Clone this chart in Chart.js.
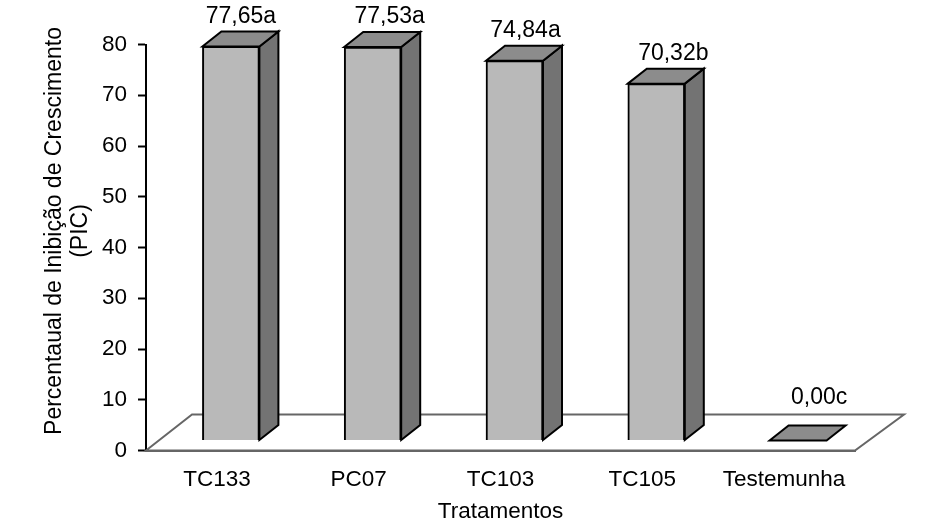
<!DOCTYPE html>
<html lang="pt">
<head>
    <meta charset="UTF-8">
    <title>Percentual de Inibição de Crescimento</title>
    <script src="https://cdn.jsdelivr.net/npm/chart.js"></script>
    <style>
        body { margin: 0; background: #fff; }
        canvas { display: block; }
    </style>
</head>
<body>
    <canvas id="picChart" width="945" height="529"></canvas>

    <script>
        const tratamentos = ['TC133', 'PC07', 'TC103', 'TC105', 'Testemunha'];
        const pic = [77.65, 77.53, 74.84, 70.32, 0];
        const letras = ['a', 'a', 'a', 'b', 'c'];
        const yTicks = [0, 10, 20, 30, 40, 50, 60, 70, 80];

        const FONT = '"Liberation Sans", Arial, sans-serif';
        const FONT_SIZE = 22.5;
        const LABEL_SIZE = 23;

        // the fake 3D: bars sit forward on the floor, depth goes up and right
        const BAR_SHIFT = { x: 14, y: -10 };
        const DEPTH = { x: 19, y: -15 };
        const FLOOR_BACK = { left: 46, right: 49, y: -36 };
        // value labels were moved by hand in the original
        const labelDx = [10, 17, 11, 17, 21];
        const labelDy = [30, 30, 30, 30, 43];

        function poly(ctx, pts, fill, stroke, lw) {
            ctx.beginPath();
            pts.forEach((p, i) => i ? ctx.lineTo(p[0], p[1]) : ctx.moveTo(p[0], p[1]));
            ctx.closePath();
            if (fill) { ctx.fillStyle = fill; ctx.fill(); }
            ctx.strokeStyle = stroke;
            ctx.lineWidth = lw;
            ctx.lineJoin = 'miter';
            ctx.stroke();
        }

        const floorPlugin = {
            id: 'floor',
            beforeDatasetsDraw(chart) {
                const { ctx, scales: { x, y } } = chart;
                const y0 = y.getPixelForValue(0);
                poly(ctx, [
                    [x.left, y0],
                    [x.left + FLOOR_BACK.left, y0 + FLOOR_BACK.y],
                    [x.right + FLOOR_BACK.right, y0 + FLOOR_BACK.y],
                    [x.right, y0]
                ], null, '#666', 2);
            }
        };

        const bars3d = {
            id: 'bars3d',
            beforeDatasetDraw(chart) {
                chart.ctx.save();
                chart.ctx.translate(BAR_SHIFT.x, BAR_SHIFT.y);
            },
            afterDatasetDraw(chart, args) {
                const ctx = chart.ctx;
                args.meta.data.forEach(bar => {
                    const l = bar.x - bar.width / 2, r = bar.x + bar.width / 2;
                    const t = bar.y, b = bar.base;
                    if (b - t > 1) {
                        poly(ctx, [[r, t], [r + DEPTH.x, t + DEPTH.y], [r + DEPTH.x, b + DEPTH.y], [r, b]], '#737373', '#000', 2);
                    }
                    poly(ctx, [[l, t], [l + DEPTH.x, t + DEPTH.y], [r + DEPTH.x, t + DEPTH.y], [r, t]], '#8c8c8c', '#000', 2);
                });
                ctx.restore();
            },
            afterDatasetsDraw(chart) {
                const ctx = chart.ctx;
                ctx.save();
                ctx.fillStyle = '#000';
                ctx.font = LABEL_SIZE + 'px ' + FONT;
                ctx.textAlign = 'center';
                ctx.textBaseline = 'middle';
                chart.getDatasetMeta(0).data.forEach((bar, i) => {
                    const txt = pic[i].toFixed(2).replace('.', ',') + letras[i];
                    ctx.fillText(txt, bar.x + BAR_SHIFT.x + labelDx[i], bar.y + BAR_SHIFT.y - labelDy[i]);
                });
                // y title is not centred on the axis, so place it here
                ctx.translate(67, 231);
                ctx.rotate(-Math.PI / 2);
                ctx.fillText('Percentaual de Inibição de Crescimento', 0, -12);
                ctx.fillText('(PIC)', 0, 14);
                ctx.restore();
            }
        };

        new Chart(document.getElementById('picChart'), {
            type: 'bar',
            data: {
                labels: tratamentos,
                datasets: [{
                    data: pic,
                    backgroundColor: '#b9b9b9',
                    borderColor: '#000',
                    borderWidth: 2,
                    barThickness: 57,
                    clip: false
                }]
            },
            plugins: [floorPlugin, bars3d],
            options: {
                responsive: false,
                animation: false,
                layout: { padding: { top: 44.5, right: 90 } },
                plugins: { legend: { display: false }, tooltip: { enabled: false } },
                scales: {
                    x: {
                        afterFit(scale) { scale.height = 78.5; },
                        grid: { display: false },
                        border: { color: '#666', width: 2 },
                        ticks: {
                            color: '#000',
                            font: { family: FONT, size: FONT_SIZE },
                            padding: 8,
                            maxRotation: 0
                        },
                        title: {
                            display: true,
                            text: 'Tratamentos',
                            color: '#000',
                            font: { family: FONT, size: FONT_SIZE },
                            padding: { top: 2, bottom: 4 }
                        }
                    },
                    y: {
                        min: 0,
                        max: 80,
                        afterFit(scale) { scale.width = 146; },
                        afterBuildTicks(scale) { scale.ticks = yTicks.map(value => ({ value })); },
                        grid: { drawOnChartArea: false, tickLength: 8, tickColor: '#000', tickWidth: 2 },
                        border: { color: '#000', width: 2 },
                        ticks: {
                            color: '#000',
                            font: { family: FONT, size: FONT_SIZE },
                            padding: 11
                        }
                    }
                }
            }
        });
    </script>
</body>
</html>
